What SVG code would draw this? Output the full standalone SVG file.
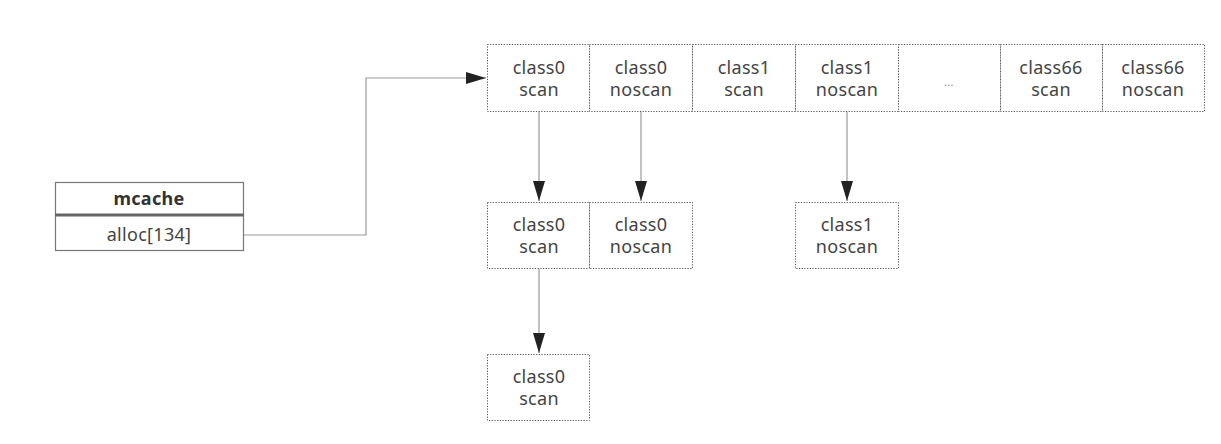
<svg xmlns="http://www.w3.org/2000/svg" width="1221" height="444" viewBox="0 0 1221 444">
<style>
.box{fill:#fff;stroke:#555;stroke-width:1;stroke-dasharray:1.2 1.5}
.t{font-family:"Noto Sans","Open Sans",sans-serif;font-size:18px;fill:#444;text-anchor:middle;letter-spacing:0.3px}
.b{font-weight:bold;fill:#333}
.ln{fill:none;stroke:#999;stroke-width:1.2}
.solid{fill:#fff;stroke:#777;stroke-width:1.2}
</style>
<defs>
<marker id="ah" viewBox="0 0 20 12" refX="20" refY="6" markerWidth="20" markerHeight="12" markerUnits="userSpaceOnUse" orient="auto">
<path d="M0,0 L20,6 L0,12 Z" fill="#222"/>
</marker>
</defs>
<rect width="1221" height="444" fill="#fff"/>
<g id="connectors">
<path class="ln" d="M243,235 H366 V78 H486" marker-end="url(#ah)"/>
<path class="ln" d="M539,111 V201" marker-end="url(#ah)"/>
<path class="ln" d="M641,111 V201" marker-end="url(#ah)"/>
<path class="ln" d="M847,111 V201" marker-end="url(#ah)"/>
<path class="ln" d="M539,268 V353" marker-end="url(#ah)"/>
</g>
<g id="mcache">
<rect class="solid" x="55.5" y="182.5" width="188" height="68"/>
<line x1="55" y1="215" x2="244" y2="215" stroke="#666" stroke-width="3"/>
<text class="t b" x="149" y="205">mcache</text>
<text class="t" x="149" y="241">alloc[134]</text>
</g>
<g id="top-class0-scan"><rect class="box" x="487.5" y="44.5" width="102" height="67"/><text class="t" x="539" y="74">class0</text><text class="t" x="539" y="96">scan</text></g>
<g id="top-class0-noscan"><rect class="box" x="589.5" y="44.5" width="103" height="67"/><text class="t" x="641" y="74">class0</text><text class="t" x="641" y="96">noscan</text></g>
<g id="top-class1-scan"><rect class="box" x="692.5" y="44.5" width="103" height="67"/><text class="t" x="744" y="74">class1</text><text class="t" x="744" y="96">scan</text></g>
<g id="top-class1-noscan"><rect class="box" x="795.5" y="44.5" width="103" height="67"/><text class="t" x="847" y="74">class1</text><text class="t" x="847" y="96">noscan</text></g>
<g id="top-ellipsis"><rect class="box" x="898.5" y="44.5" width="102" height="67"/><text class="t" x="949" y="86" style="font-size:11px;fill:#888">...</text></g>
<g id="top-class66-scan"><rect class="box" x="1000.5" y="44.5" width="102" height="67"/><text class="t" x="1051" y="74">class66</text><text class="t" x="1051" y="96">scan</text></g>
<g id="top-class66-noscan"><rect class="box" x="1102.5" y="44.5" width="102" height="67"/><text class="t" x="1153" y="74">class66</text><text class="t" x="1153" y="96">noscan</text></g>
<g id="mid-class0-scan"><rect class="box" x="487.5" y="202.5" width="102" height="66"/><text class="t" x="539" y="231">class0</text><text class="t" x="539" y="253">scan</text></g>
<g id="mid-class0-noscan"><rect class="box" x="589.5" y="202.5" width="103" height="66"/><text class="t" x="641" y="231">class0</text><text class="t" x="641" y="253">noscan</text></g>
<g id="mid-class1-noscan"><rect class="box" x="795.5" y="202.5" width="103" height="66"/><text class="t" x="847" y="231">class1</text><text class="t" x="847" y="253">noscan</text></g>
<g id="bot-class0-scan"><rect class="box" x="487.5" y="354.5" width="102" height="66"/><text class="t" x="539" y="383">class0</text><text class="t" x="539" y="405">scan</text></g>
</svg>
